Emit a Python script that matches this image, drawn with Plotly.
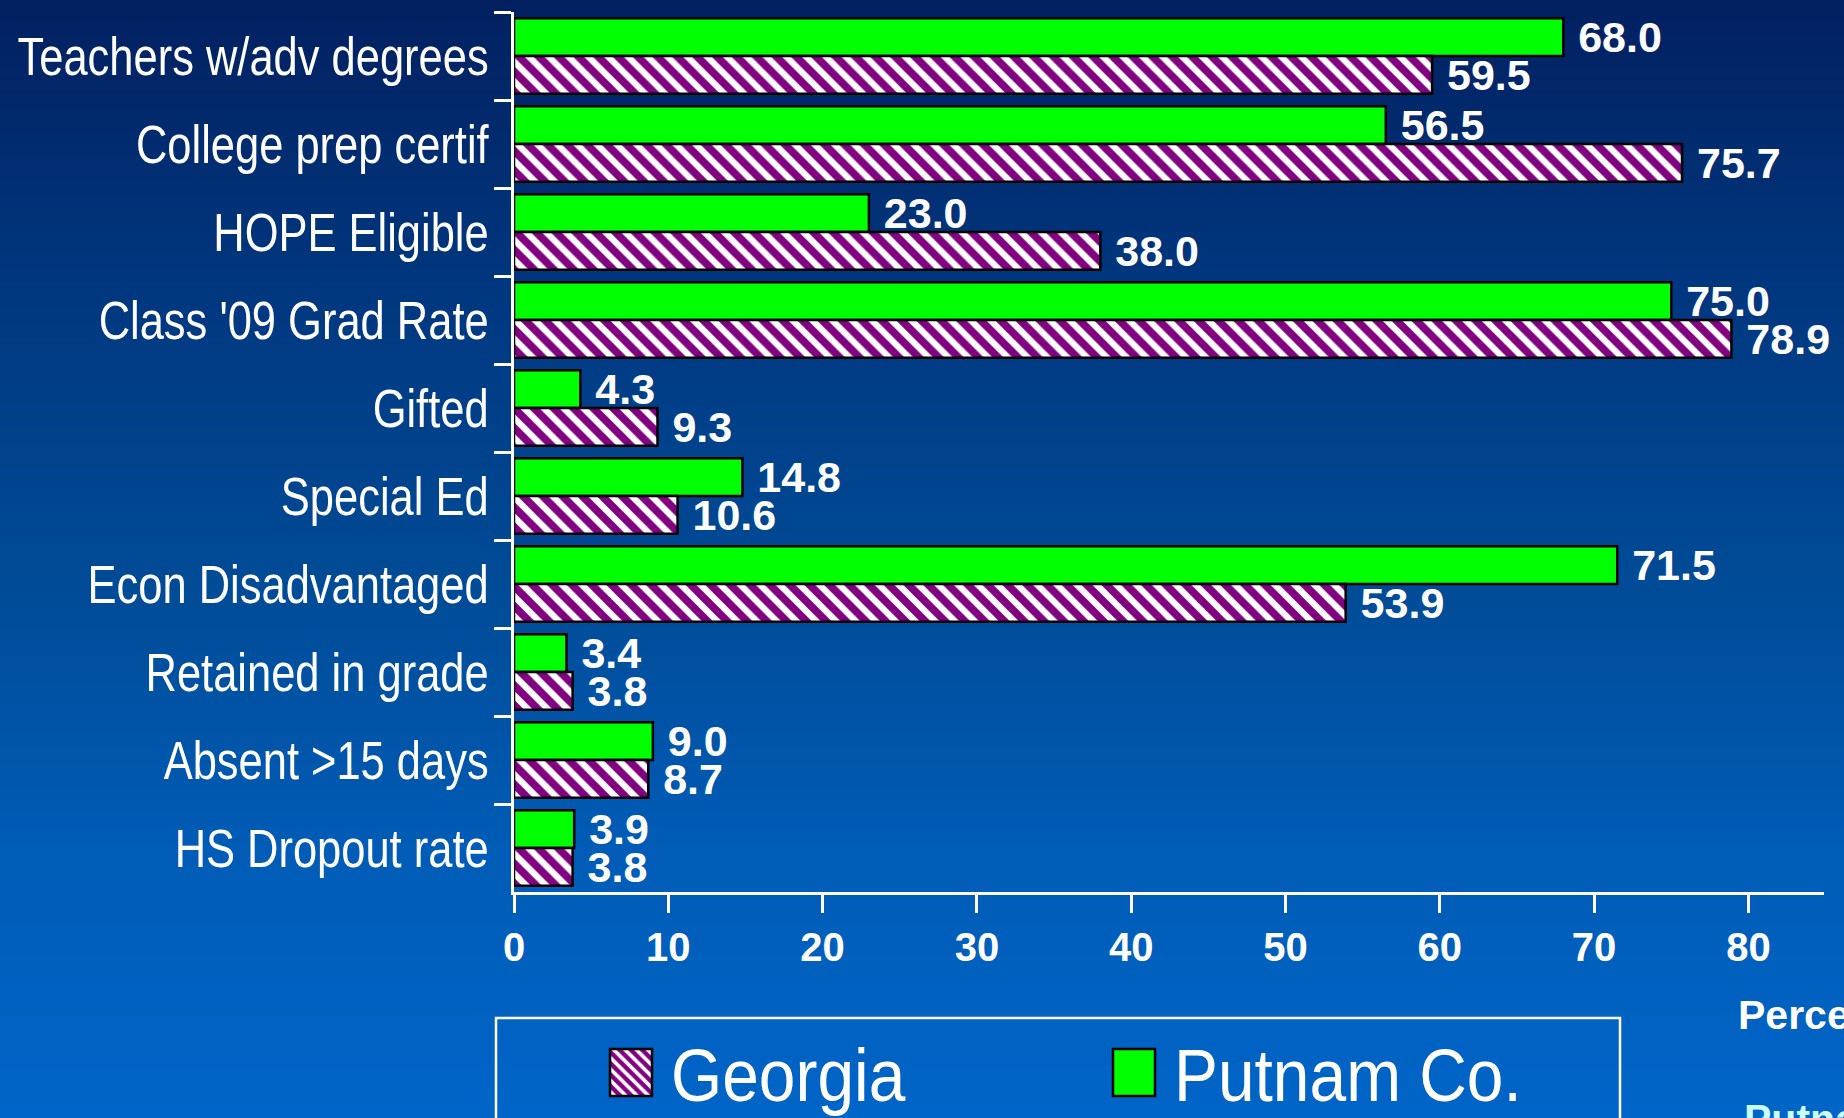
import base64
import struct
import zlib

import plotly.graph_objects as go

# ---------------- data ----------------
categories = [
    "Teachers w/adv degrees",
    "College prep certif",
    "HOPE Eligible",
    "Class '09 Grad Rate",
    "Gifted",
    "Special Ed",
    "Econ Disadvantaged",
    "Retained in grade",
    "Absent >15 days",
    "HS Dropout rate",
]
putnam_values = [68.0, 56.5, 23.0, 75.0, 4.3, 14.8, 71.5, 3.4, 9.0, 3.9]
georgia_values = [59.5, 75.7, 38.0, 78.9, 9.3, 10.6, 53.9, 3.8, 8.7, 3.8]
series_names = ["Putnam Co.", "Georgia"]
x_tick_values = [0, 10, 20, 30, 40, 50, 60, 70, 80]

# ---------------- layout constants (pixels) ----------------
W, H = 1844, 1118
L, R, T, B = 514, 20, 12, 226
PW, PH = W - L - R, H - T - B

ARIAL = "Liberation Sans, Arial, sans-serif"


def px_x(px):
    return (px - L) / PW


def px_y(py):
    return (H - B - py) / PH


# ---------------- gradient background (PNG built in-memory) ----------------
def gradient_png(stops, height, width=4):
    def col(y):
        for (y0, c0), (y1, c1) in zip(stops[:-1], stops[1:]):
            if y0 <= y <= y1:
                t = (y - y0) / (y1 - y0)
                return tuple(int(round(a + (b - a) * t)) for a, b in zip(c0, c1))
        return stops[-1][1]

    raw = b""
    for i in range(height):
        c = bytes(col(i))
        raw += b"\x00" + c * width

    def chunk(tag, data):
        return struct.pack(">I", len(data)) + tag + data + struct.pack(">I", zlib.crc32(tag + data) & 0xFFFFFFFF)

    png = b"\x89PNG\r\n\x1a\n"
    png += chunk(b"IHDR", struct.pack(">IIBBBBB", width, height, 8, 2, 0, 0, 0))
    png += chunk(b"IDAT", zlib.compress(raw, 9))
    png += chunk(b"IEND", b"")
    return "data:image/png;base64," + base64.b64encode(png).decode()


bg_stops = [
    (0, (2, 32, 96)),
    (300, (0, 56, 128)),
    (600, (0, 76, 152)),
    (850, (0, 92, 182)),
    (1118, (0, 101, 200)),
]
bg_src = gradient_png(bg_stops, H)

# ---------------- figure ----------------
fig = go.Figure()

label_font = dict(family=ARIAL, size=43, color="white", weight="bold")

fig.add_trace(
    go.Bar(
        name=series_names[0],
        y=categories,
        x=putnam_values,
        orientation="h",
        marker=dict(color="#00FF00", line=dict(color="black", width=2.5)),
        texttemplate="\u00a0%{x:.1f}",
        textposition="outside",
        textfont=label_font,
        constraintext="none",
        cliponaxis=False,
        hoverinfo="skip",
    )
)
fig.add_trace(
    go.Bar(
        name=series_names[1],
        y=categories,
        x=georgia_values,
        orientation="h",
        marker=dict(
            color="white",
            line=dict(color="black", width=2.5),
            pattern=dict(shape="\\", fgcolor="#800080", bgcolor="white", size=14, solidity=0.55,
                         fgopacity=1),
        ),
        texttemplate="\u00a0%{x:.1f}",
        textposition="outside",
        textfont=label_font,
        constraintext="none",
        cliponaxis=False,
        hoverinfo="skip",
    )
)

fig.update_layout(
    width=W,
    height=H,
    margin=dict(l=L, r=R, t=T, b=B, pad=0, autoexpand=False),
    paper_bgcolor="#003070",
    plot_bgcolor="rgba(0,0,0,0)",
    barmode="group",
    bargap=0.14,
    bargroupgap=0,
    showlegend=True,
    legend=dict(
        orientation="h",
        traceorder="reversed",
        x=px_x(591),
        xanchor="left",
        y=px_y(1018),
        yanchor="top",
        font=dict(family=ARIAL, size=74, color="white"),
        bgcolor="rgba(0,0,0,0)",
        borderwidth=0,
        itemwidth=70,
        entrywidth=418,
        itemclick=False,
        itemdoubleclick=False,
    ),
    images=[
        dict(
            source=bg_src,
            xref="paper",
            yref="paper",
            x=px_x(0),
            y=px_y(0),
            sizex=W / PW,
            sizey=H / PH,
            xanchor="left",
            yanchor="top",
            sizing="stretch",
            layer="below",
        )
    ],
    shapes=[
        dict(
            type="rect",
            xref="paper",
            yref="paper",
            x0=px_x(496),
            x1=px_x(1620),
            y0=px_y(1160),
            y1=px_y(1018),
            line=dict(color="white", width=2.5),
            fillcolor="rgba(0,0,0,0)",
        )
    ],
    annotations=[
        dict(
            text="Percent",
            xref="paper",
            yref="paper",
            x=px_x(1736),
            y=px_y(990),
            xanchor="left",
            yanchor="top",
            showarrow=False,
            font=dict(family=ARIAL, size=41, color="white", weight="bold"),
        ),
        dict(
            text="Putnam",
            xref="paper",
            yref="paper",
            x=px_x(1742),
            y=px_y(1094),
            xanchor="left",
            yanchor="top",
            showarrow=False,
            font=dict(family=ARIAL, size=41, color="#C8FFFF", weight="bold"),
        ),
    ],
)

fig.update_xaxes(
    range=[0, 84.9],
    tickvals=x_tick_values,
    automargin=False,
    showgrid=False,
    zeroline=False,
    showline=True,
    linecolor="white",
    linewidth=2.5,
    ticks="outside",
    ticklen=18,
    tickwidth=2.5,
    tickcolor="white",
    tickfont=dict(family=ARIAL, size=40, color="white", weight="bold"),
    ticklabelstandoff=0,
)
fig.update_yaxes(
    categoryorder="array",
    categoryarray=categories,
    autorange="reversed",
    automargin=False,
    showgrid=False,
    zeroline=False,
    showline=True,
    linecolor="white",
    linewidth=2.5,
    ticks="outside",
    tickson="boundaries",
    ticklen=17,
    tickwidth=2.5,
    tickcolor="white",
    tickfont=dict(family=ARIAL, size=53, color="white"),
    ticklabelstandoff=12,
)

# Page without default body margin; Arial-Narrow look for the category and
# legend texts (horizontal condensing); larger legend swatches.
post_js = """
(function(){
  document.documentElement.style.margin = '0';
  document.body.style.margin = '0';
  document.body.style.overflow = 'hidden';
  var gd = document.querySelector('.plotly-graph-div');
  function squeeze(sel, f){
    gd.querySelectorAll(sel).forEach(function(t){
      t.removeAttribute('textLength');
      var w = t.getComputedTextLength();
      t.setAttribute('textLength', (w*f).toFixed(1));
      t.setAttribute('lengthAdjust', 'spacingAndGlyphs');
    });
  }
  function fix(){
    gd.querySelectorAll('.legend .legendpoints path').forEach(function(p){
      p.setAttribute('d','M21,23.5H-21V-23.5H21Z');
    });
    squeeze('g.ytick text', 0.82);
    squeeze('text.legendtext', 0.89);
  }
  fix();
  if (gd.on) { gd.on('plotly_afterplot', fix); }
})();
"""

fig.write_html("out.html", post_script=post_js, config={"displayModeBar": False})
